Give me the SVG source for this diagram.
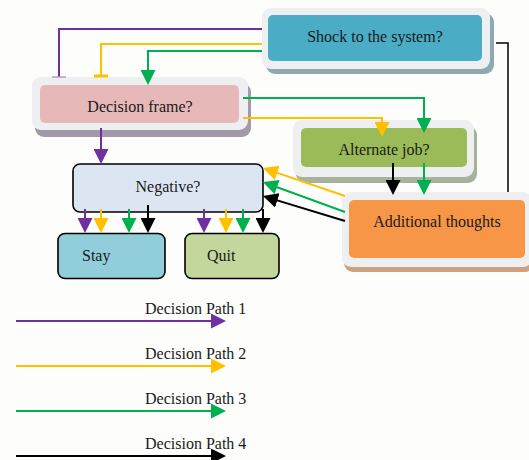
<svg xmlns="http://www.w3.org/2000/svg" width="529" height="460" viewBox="0 0 529 460">
  <style>
    text { font-family: "Liberation Serif", "Times New Roman", serif; font-size: 16px; fill: #1a1a1a; }
    .mid { text-anchor: middle; }
    .frame { fill: #eeeff1; }
    .line { fill: none; stroke-width: 2; }
    .purple { stroke: #7030a0; }
    .yellow { stroke: #ffc000; }
    .green { stroke: #00b050; }
    .black { stroke: #000000; }
    .plain { rx: 7; ry: 7; stroke: #000; stroke-width: 1.6; }
  </style>
  <defs>
    <!-- arrowheads: tip sits 2px past the end of the line so the stroke does not poke out -->
    <marker id="ah-purple" viewBox="0 0 10 10" refX="8.67" refY="5" markerWidth="15" markerHeight="15" markerUnits="userSpaceOnUse" orient="auto" preserveAspectRatio="none">
      <path d="M0,0 L10,5 L0,10 Z" fill="#7030a0"/>
    </marker>
    <marker id="ah-yellow" viewBox="0 0 10 10" refX="8.67" refY="5" markerWidth="15" markerHeight="15" markerUnits="userSpaceOnUse" orient="auto" preserveAspectRatio="none">
      <path d="M0,0 L10,5 L0,10 Z" fill="#ffc000"/>
    </marker>
    <marker id="ah-green" viewBox="0 0 10 10" refX="8.67" refY="5" markerWidth="15" markerHeight="15" markerUnits="userSpaceOnUse" orient="auto" preserveAspectRatio="none">
      <path d="M0,0 L10,5 L0,10 Z" fill="#00b050"/>
    </marker>
    <marker id="ah-black" viewBox="0 0 10 10" refX="8.67" refY="5" markerWidth="15" markerHeight="15" markerUnits="userSpaceOnUse" orient="auto" preserveAspectRatio="none">
      <path d="M0,0 L10,5 L0,10 Z" fill="#000000"/>
    </marker>
  </defs>

  <rect x="0" y="0" width="529" height="460" fill="#fdfdfb"/>

  <!-- framed boxes: shadow, light frame, coloured face -->
  <g id="shock">
    <rect x="266" y="13" width="228" height="61" rx="9" fill="#8ea9b1"/>
    <rect class="frame" x="262" y="8" width="228" height="61" rx="9"/>
    <rect x="268" y="15" width="214" height="46" rx="5" fill="#4bacc6"/>
    <text class="mid" x="375" y="42">Shock to the system?</text>
  </g>

  <g id="decision-frame">
    <rect x="35" y="83" width="216" height="54" rx="9" fill="#a29aa8"/>
    <rect class="frame" x="32" y="77" width="216" height="53" rx="9"/>
    <rect x="40" y="85" width="199" height="38" rx="5" fill="#e6b9b8"/>
    <text class="mid" x="140" y="111.5">Decision frame?</text>
  </g>

  <g id="alternate-job">
    <rect x="296" y="126" width="181" height="57" rx="9" fill="#a7b19b"/>
    <rect class="frame" x="293" y="120" width="181" height="57" rx="9"/>
    <rect x="301" y="128" width="166" height="39" rx="5" fill="#9bbb59"/>
    <text class="mid" x="384" y="154.5">Alternate job?</text>
  </g>

  <g id="additional-thoughts">
    <rect x="344" y="197" width="190" height="75" rx="9" fill="#cfa17f"/>
    <rect class="frame" x="342" y="192" width="190" height="75" rx="9"/>
    <rect x="349" y="200" width="176" height="58" rx="5" fill="#f79646"/>
    <text class="mid" x="437" y="226.5">Additional thoughts</text>
  </g>

  <g id="negative">
    <rect class="plain" x="73" y="164" width="190" height="48" fill="#dce6f2"/>
    <text class="mid" x="168" y="191.5">Negative?</text>
  </g>

  <g id="stay">
    <rect class="plain" x="58" y="233.5" width="107" height="45" fill="#92cddc"/>
    <text x="82" y="261">Stay</text>
  </g>

  <g id="quit">
    <rect class="plain" x="185" y="233.5" width="94" height="45" fill="#c3d69b"/>
    <text x="207" y="261">Quit</text>
  </g>

  <!-- connectors -->
  <g id="connectors">
    <!-- shock to the system -> decision frame -->
    <path class="line purple" d="M262,29 H59 V77"/>
    <path d="M52,77 H66" stroke="#b49bd6" stroke-width="1.5" fill="none"/>
    <path class="line yellow" d="M262,44 H101 V76"/>
    <path d="M94,76 H108" stroke="#ffc000" stroke-width="3" fill="none"/>
    <path class="line green" d="M262,51 H148 V83" marker-end="url(#ah-green)"/>

    <!-- shock to the system -> additional thoughts -->
    <path d="M496,43 H508 V192" fill="none" stroke="#000" stroke-width="1.5"/>

    <!-- decision frame -> negative -->
    <path class="line purple" d="M101,128 V162" marker-end="url(#ah-purple)"/>

    <!-- decision frame -> alternate job -->
    <path class="line green" d="M243,98 H424 V131" marker-end="url(#ah-green)"/>
    <path class="line yellow" d="M243,118 H382 V135" marker-end="url(#ah-yellow)"/>

    <!-- alternate job -> additional thoughts -->
    <path class="line black" d="M393,163 V193" marker-end="url(#ah-black)"/>
    <path class="line green" d="M424,163 V193" marker-end="url(#ah-green)"/>

    <!-- additional thoughts -> negative -->
    <path class="line yellow" d="M345,196 L264.9,168.6" marker-end="url(#ah-yellow)"/>
    <path class="line green" d="M345,212 L264.9,182.7" marker-end="url(#ah-green)"/>
    <path class="line black" d="M345,221 L264.9,196.6" marker-end="url(#ah-black)"/>

    <!-- negative -> stay -->
    <path class="line purple" d="M85,209 V231" marker-end="url(#ah-purple)"/>
    <path class="line yellow" d="M101,209 V231" marker-end="url(#ah-yellow)"/>
    <path class="line green" d="M129,209 V231" marker-end="url(#ah-green)"/>
    <path class="line black" d="M148,205 V231" marker-end="url(#ah-black)"/>

    <!-- negative -> quit -->
    <path class="line purple" d="M204,209 V231" marker-end="url(#ah-purple)"/>
    <path class="line yellow" d="M226,209 V231" marker-end="url(#ah-yellow)"/>
    <path class="line green" d="M243,209 V231" marker-end="url(#ah-green)"/>
    <path class="line black" d="M263,209 V231" marker-end="url(#ah-black)"/>
  </g>

  <!-- legend -->
  <g id="legend">
    <path class="line purple" d="M16,321 H224" marker-end="url(#ah-purple)"/>
    <text x="145" y="314">Decision Path 1</text>
    <path class="line yellow" d="M16,366 H224" marker-end="url(#ah-yellow)"/>
    <text x="145" y="358.5">Decision Path 2</text>
    <path class="line green" d="M16,411 H224" marker-end="url(#ah-green)"/>
    <text x="145" y="403.5">Decision Path 3</text>
    <path class="line black" d="M16,456 H224" marker-end="url(#ah-black)"/>
    <text x="145" y="448.5">Decision Path 4</text>
  </g>
</svg>
